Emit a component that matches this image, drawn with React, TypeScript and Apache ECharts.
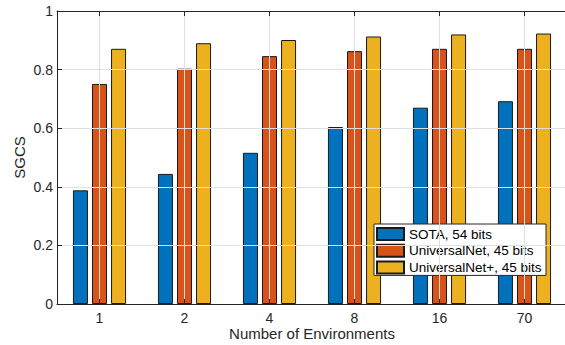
import React, { useEffect, useRef } from "react";
import * as echarts from "echarts";

const categories = ["1", "2", "4", "8", "16", "70"];
const sotaValues = [0.388, 0.444, 0.516, 0.604, 0.670, 0.692];
const universalNetValues = [0.751, 0.803, 0.846, 0.863, 0.871, 0.871];
const universalNetPlusValues = [0.871, 0.890, 0.901, 0.913, 0.920, 0.923];
const seriesNames = ["SOTA, 54 bits", "UniversalNet, 45 bits", "UniversalNet+, 45 bits"];
const seriesColors = ["#0072BD", "#D95319", "#EDB120"];
const yTicks = [0, 0.2, 0.4, 0.6, 0.8, 1];

const TEXT = "#262626";
const GRID = "#dfdfdf";
const FONT = "Liberation Sans, Arial, sans-serif";

export default function App() {
  const ref = useRef<HTMLDivElement>(null);
  useEffect(() => {
    if (!ref.current) return;
    const chart = echarts.init(ref.current, null, { renderer: "svg" });
    // half-step categories so that gridlines fall on category centres
    const halfSteps: string[] = [""];
    categories.forEach((c) => {
      halfSteps.push(c);
      halfSteps.push("");
    });
    const odd = (i: number) => i % 2 === 1;
    const allValues = [sotaValues, universalNetValues, universalNetPlusValues];
    chart.setOption({
      animation: false,
      textStyle: { fontFamily: FONT, color: TEXT },
      grid: {
        left: 57,
        top: 11,
        width: 510,
        height: 293,
        containLabel: false,
        outerBoundsMode: "none",
      },
      legend: {
        orient: "vertical",
        left: 374,
        top: 224,
        icon: "rect",
        itemWidth: 27,
        itemHeight: 12,
        itemGap: 2.7,
        padding: [3, 1, 1, 2],
        backgroundColor: "#ffffff",
        borderColor: TEXT,
        borderWidth: 1,
        borderRadius: 0,
        textStyle: { fontFamily: FONT, fontSize: 13.5, lineHeight: 14, width: 136, color: "#000000" },
        data: seriesNames,
      },
      xAxis: [
        {
          type: "category",
          data: categories,
          position: "bottom",
          z: 10,
          name: "Number of Environments",
          nameLocation: "middle",
          nameGap: 22,
          nameMoveOverlap: false,
          nameTextStyle: { fontFamily: FONT, fontSize: 15, color: TEXT },
          axisLine: { show: true, lineStyle: { color: TEXT, width: 1 } },
          axisTick: { show: true, inside: true, alignWithLabel: true, length: 5, lineStyle: { color: TEXT } },
          axisLabel: { fontFamily: FONT, fontSize: 14, color: TEXT, margin: 7 },
          splitLine: { show: false },
        },
        {
          type: "category",
          data: halfSteps,
          boundaryGap: false,
          position: "top",
          z: 10,
          axisLine: { show: true, lineStyle: { color: TEXT, width: 1 } },
          axisTick: { show: true, inside: true, length: 5, interval: odd, lineStyle: { color: TEXT } },
          axisLabel: { show: false },
          splitLine: { show: true, interval: odd, lineStyle: { color: GRID, width: 1 } },
        },
      ],
      yAxis: {
        type: "value",
        min: yTicks[0],
        max: yTicks[yTicks.length - 1],
        interval: 0.2,
        z: 10,
        name: "SGCS",
        nameLocation: "middle",
        nameGap: 30,
        nameMoveOverlap: false,
        nameTextStyle: { fontFamily: FONT, fontSize: 15, color: TEXT },
        axisLine: { show: true, lineStyle: { color: TEXT, width: 1 } },
        axisTick: { show: true, inside: true, length: 5, lineStyle: { color: TEXT } },
        axisLabel: { fontFamily: FONT, fontSize: 14, color: TEXT, margin: 4 },
        splitLine: { show: true, lineStyle: { color: GRID, width: 1 } },
      },
      series: seriesNames.map((name, i) => ({
        name,
        type: "bar",
        xAxisIndex: 0,
        barWidth: 15,
        barGap: "27%",
        data: allValues[i],
        itemStyle: { color: seriesColors[i], borderColor: "#1a1a1a", borderWidth: 1 },
      })),
    });
    return () => chart.dispose();
  }, []);
  return (
    <div
      ref={ref}
      style={{ position: "absolute", left: 0, top: 0, width: 565, height: 345, background: "#fff" }}
    />
  );
}
